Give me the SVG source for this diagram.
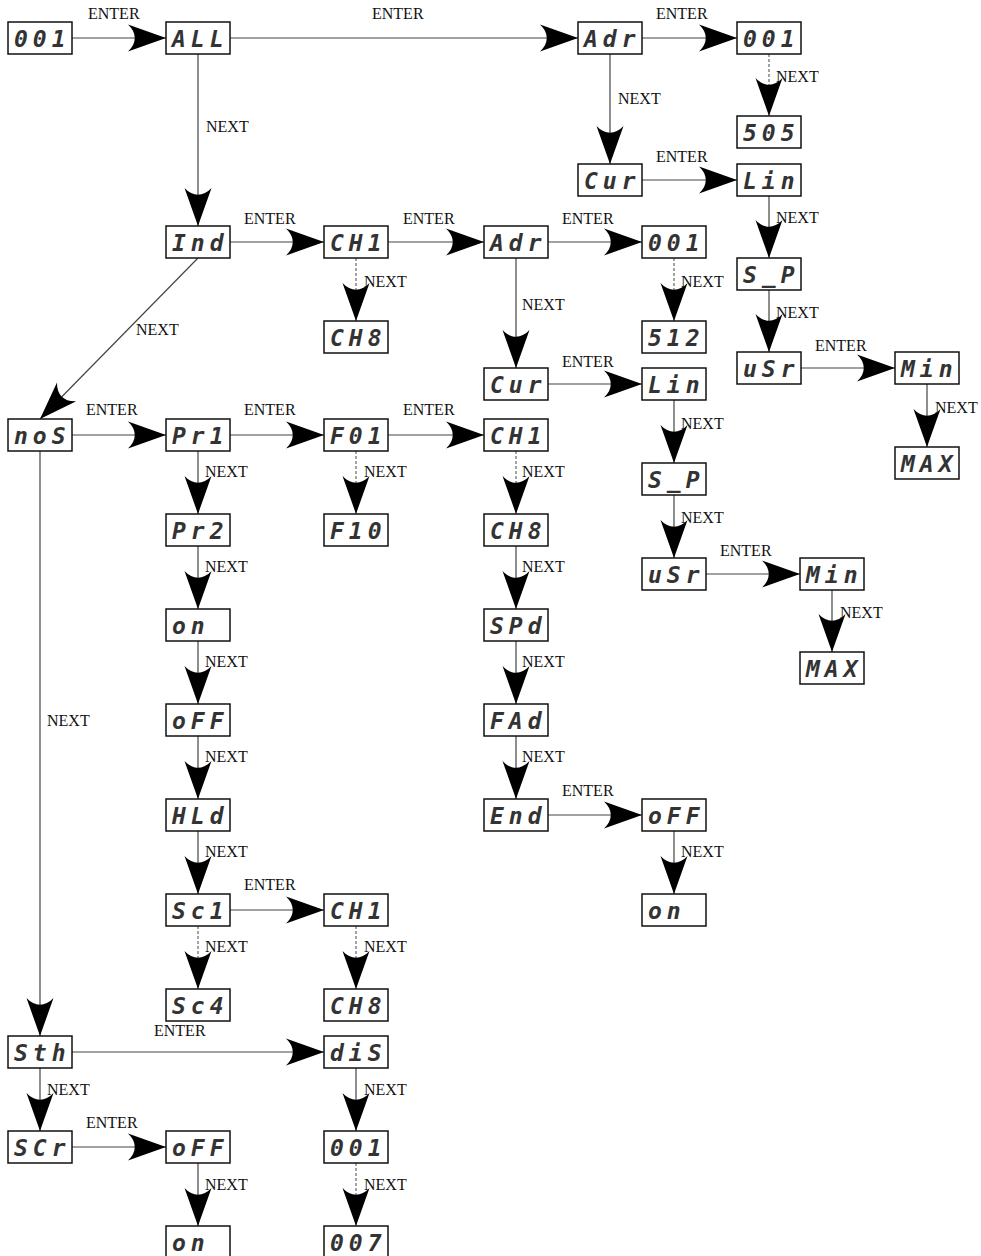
<svg xmlns="http://www.w3.org/2000/svg" width="981" height="1256" viewBox="0 0 981 1256">
<style>
.box{fill:#fff;stroke:#111;stroke-width:1.5}
.seg{font-family:"DejaVu Sans Mono","Liberation Mono",monospace;font-size:23px;font-weight:bold;font-style:italic;fill:#333;letter-spacing:5px}
.lbl{font-family:"Liberation Serif","Times New Roman",serif;font-size:16px;fill:#111}
.c{fill:none;stroke:#444;stroke-width:1.2;marker-end:url(#ah)}
.d{stroke:#666;stroke-dasharray:3 2}
</style>
<defs>
<marker id="ah" markerUnits="userSpaceOnUse" viewBox="-40 -15 41 30" refX="0" refY="0" markerWidth="41" markerHeight="30" orient="auto">
<path d="M0,0 L-38,-13.5 C-29,-5 -29,5 -38,13.5 Z" fill="#000"/>
</marker>
</defs>
<g id="connectors">
<path class="c" d="M72,38H166"/>
<path class="c" d="M230,38H578"/>
<path class="c" d="M642,38H737"/>
<path class="c d" d="M769,54V116"/>
<path class="c" d="M610,54V164"/>
<path class="c" d="M642,180H737"/>
<path class="c" d="M769,196V258"/>
<path class="c" d="M769,290V352"/>
<path class="c" d="M801,368H895"/>
<path class="c" d="M927,384V447"/>
<path class="c" d="M198,54V226"/>
<path class="c" d="M230,242H324"/>
<path class="c" d="M388,242H484"/>
<path class="c" d="M548,242H642"/>
<path class="c d" d="M356,258V321"/>
<path class="c d" d="M674,258V321"/>
<path class="c" d="M516,258V368"/>
<path class="c" d="M548,384H642"/>
<path class="c" d="M674,400V463"/>
<path class="c" d="M674,495V558"/>
<path class="c" d="M706,574H800"/>
<path class="c" d="M832,590V652"/>
<path class="c" d="M198,258L40,419"/>
<path class="c" d="M72,435H166"/>
<path class="c" d="M230,435H324"/>
<path class="c" d="M388,435H484"/>
<path class="c" d="M198,451V514"/>
<path class="c d" d="M356,451V514"/>
<path class="c d" d="M516,451V514"/>
<path class="c" d="M198,546V609"/>
<path class="c" d="M516,546V609"/>
<path class="c" d="M198,641V704"/>
<path class="c" d="M516,641V704"/>
<path class="c" d="M198,736V799"/>
<path class="c" d="M516,736V799"/>
<path class="c" d="M548,815H642"/>
<path class="c" d="M198,831V894"/>
<path class="c" d="M674,831V894"/>
<path class="c" d="M230,910H324"/>
<path class="c d" d="M198,926V989"/>
<path class="c d" d="M356,926V989"/>
<path class="c" d="M40,451V1036"/>
<path class="c" d="M72,1052H324"/>
<path class="c" d="M40,1068V1131"/>
<path class="c" d="M356,1068V1131"/>
<path class="c" d="M72,1147H166"/>
<path class="c" d="M198,1163V1226"/>
<path class="c d" d="M356,1163V1226"/>
</g>
<g id="labels">
<text class="lbl" x="88" y="19">ENTER</text>
<text class="lbl" x="372" y="19">ENTER</text>
<text class="lbl" x="656" y="19">ENTER</text>
<text class="lbl" x="776" y="82">NEXT</text>
<text class="lbl" x="618" y="104">NEXT</text>
<text class="lbl" x="656" y="162">ENTER</text>
<text class="lbl" x="776" y="223">NEXT</text>
<text class="lbl" x="776" y="318">NEXT</text>
<text class="lbl" x="815" y="351">ENTER</text>
<text class="lbl" x="935" y="413">NEXT</text>
<text class="lbl" x="206" y="132">NEXT</text>
<text class="lbl" x="244" y="224">ENTER</text>
<text class="lbl" x="403" y="224">ENTER</text>
<text class="lbl" x="562" y="224">ENTER</text>
<text class="lbl" x="364" y="287">NEXT</text>
<text class="lbl" x="681" y="287">NEXT</text>
<text class="lbl" x="522" y="310">NEXT</text>
<text class="lbl" x="562" y="367">ENTER</text>
<text class="lbl" x="681" y="429">NEXT</text>
<text class="lbl" x="681" y="523">NEXT</text>
<text class="lbl" x="720" y="556">ENTER</text>
<text class="lbl" x="840" y="618">NEXT</text>
<text class="lbl" x="136" y="335">NEXT</text>
<text class="lbl" x="86" y="415">ENTER</text>
<text class="lbl" x="244" y="415">ENTER</text>
<text class="lbl" x="403" y="415">ENTER</text>
<text class="lbl" x="205" y="477">NEXT</text>
<text class="lbl" x="364" y="477">NEXT</text>
<text class="lbl" x="522" y="477">NEXT</text>
<text class="lbl" x="205" y="572">NEXT</text>
<text class="lbl" x="522" y="572">NEXT</text>
<text class="lbl" x="205" y="667">NEXT</text>
<text class="lbl" x="522" y="667">NEXT</text>
<text class="lbl" x="205" y="762">NEXT</text>
<text class="lbl" x="522" y="762">NEXT</text>
<text class="lbl" x="562" y="796">ENTER</text>
<text class="lbl" x="205" y="857">NEXT</text>
<text class="lbl" x="681" y="857">NEXT</text>
<text class="lbl" x="244" y="890">ENTER</text>
<text class="lbl" x="205" y="952">NEXT</text>
<text class="lbl" x="364" y="952">NEXT</text>
<text class="lbl" x="47" y="726">NEXT</text>
<text class="lbl" x="154" y="1036">ENTER</text>
<text class="lbl" x="47" y="1095">NEXT</text>
<text class="lbl" x="364" y="1095">NEXT</text>
<text class="lbl" x="86" y="1128">ENTER</text>
<text class="lbl" x="205" y="1190">NEXT</text>
<text class="lbl" x="364" y="1190">NEXT</text>
</g>
<g id="n001a"><rect class="box" x="8" y="22" width="64" height="32"/><text class="seg" x="14" y="46.5">001</text></g>
<g id="nALL"><rect class="box" x="166" y="22" width="64" height="32"/><text class="seg" x="172" y="46.5">ALL</text></g>
<g id="nAdr1"><rect class="box" x="578" y="22" width="64" height="32"/><text class="seg" x="584" y="46.5">Adr</text></g>
<g id="n001b"><rect class="box" x="737" y="22" width="64" height="32"/><text class="seg" x="743" y="46.5">001</text></g>
<g id="n505"><rect class="box" x="737" y="116" width="64" height="32"/><text class="seg" x="743" y="140.5">505</text></g>
<g id="nCur1"><rect class="box" x="578" y="164" width="64" height="32"/><text class="seg" x="584" y="188.5">Cur</text></g>
<g id="nLin1"><rect class="box" x="737" y="164" width="64" height="32"/><text class="seg" x="743" y="188.5">Lin</text></g>
<g id="nSP1"><rect class="box" x="737" y="258" width="64" height="32"/><text class="seg" x="743" y="282.5">S_P</text></g>
<g id="nuSr1"><rect class="box" x="737" y="352" width="64" height="32"/><text class="seg" x="743" y="376.5">uSr</text></g>
<g id="nMin1"><rect class="box" x="895" y="352" width="64" height="32"/><text class="seg" x="901" y="376.5">Min</text></g>
<g id="nMAX1"><rect class="box" x="895" y="447" width="64" height="32"/><text class="seg" x="901" y="471.5">MAX</text></g>
<g id="nInd"><rect class="box" x="166" y="226" width="64" height="32"/><text class="seg" x="172" y="250.5">Ind</text></g>
<g id="nCH1a"><rect class="box" x="324" y="226" width="64" height="32"/><text class="seg" x="330" y="250.5">CH1</text></g>
<g id="nCH8a"><rect class="box" x="324" y="321" width="64" height="32"/><text class="seg" x="330" y="345.5">CH8</text></g>
<g id="nAdr2"><rect class="box" x="484" y="226" width="64" height="32"/><text class="seg" x="490" y="250.5">Adr</text></g>
<g id="n001c"><rect class="box" x="642" y="226" width="64" height="32"/><text class="seg" x="648" y="250.5">001</text></g>
<g id="n512"><rect class="box" x="642" y="321" width="64" height="32"/><text class="seg" x="648" y="345.5">512</text></g>
<g id="nCur2"><rect class="box" x="484" y="368" width="64" height="32"/><text class="seg" x="490" y="392.5">Cur</text></g>
<g id="nLin2"><rect class="box" x="642" y="368" width="64" height="32"/><text class="seg" x="648" y="392.5">Lin</text></g>
<g id="nSP2"><rect class="box" x="642" y="463" width="64" height="32"/><text class="seg" x="648" y="487.5">S_P</text></g>
<g id="nuSr2"><rect class="box" x="642" y="558" width="64" height="32"/><text class="seg" x="648" y="582.5">uSr</text></g>
<g id="nMin2"><rect class="box" x="800" y="558" width="64" height="32"/><text class="seg" x="806" y="582.5">Min</text></g>
<g id="nMAX2"><rect class="box" x="800" y="652" width="64" height="32"/><text class="seg" x="806" y="676.5">MAX</text></g>
<g id="nnoS"><rect class="box" x="8" y="419" width="64" height="32"/><text class="seg" x="14" y="443.5">noS</text></g>
<g id="nPr1"><rect class="box" x="166" y="419" width="64" height="32"/><text class="seg" x="172" y="443.5">Pr1</text></g>
<g id="nF01"><rect class="box" x="324" y="419" width="64" height="32"/><text class="seg" x="330" y="443.5">F01</text></g>
<g id="nCH1b"><rect class="box" x="484" y="419" width="64" height="32"/><text class="seg" x="490" y="443.5">CH1</text></g>
<g id="nPr2"><rect class="box" x="166" y="514" width="64" height="32"/><text class="seg" x="172" y="538.5">Pr2</text></g>
<g id="nF10"><rect class="box" x="324" y="514" width="64" height="32"/><text class="seg" x="330" y="538.5">F10</text></g>
<g id="nCH8b"><rect class="box" x="484" y="514" width="64" height="32"/><text class="seg" x="490" y="538.5">CH8</text></g>
<g id="non1"><rect class="box" x="166" y="609" width="64" height="32"/><text class="seg" x="172" y="633.5">on</text></g>
<g id="nSPd"><rect class="box" x="484" y="609" width="64" height="32"/><text class="seg" x="490" y="633.5">SPd</text></g>
<g id="noFF1"><rect class="box" x="166" y="704" width="64" height="32"/><text class="seg" x="172" y="728.5">oFF</text></g>
<g id="nFAd"><rect class="box" x="484" y="704" width="64" height="32"/><text class="seg" x="490" y="728.5">FAd</text></g>
<g id="nHLd"><rect class="box" x="166" y="799" width="64" height="32"/><text class="seg" x="172" y="823.5">HLd</text></g>
<g id="nEnd"><rect class="box" x="484" y="799" width="64" height="32"/><text class="seg" x="490" y="823.5">End</text></g>
<g id="noFF2"><rect class="box" x="642" y="799" width="64" height="32"/><text class="seg" x="648" y="823.5">oFF</text></g>
<g id="non2"><rect class="box" x="642" y="894" width="64" height="32"/><text class="seg" x="648" y="918.5">on</text></g>
<g id="nSc1"><rect class="box" x="166" y="894" width="64" height="32"/><text class="seg" x="172" y="918.5">Sc1</text></g>
<g id="nCH1c"><rect class="box" x="324" y="894" width="64" height="32"/><text class="seg" x="330" y="918.5">CH1</text></g>
<g id="nSc4"><rect class="box" x="166" y="989" width="64" height="32"/><text class="seg" x="172" y="1013.5">Sc4</text></g>
<g id="nCH8c"><rect class="box" x="324" y="989" width="64" height="32"/><text class="seg" x="330" y="1013.5">CH8</text></g>
<g id="nSth"><rect class="box" x="8" y="1036" width="64" height="32"/><text class="seg" x="14" y="1060.5">Sth</text></g>
<g id="ndiS"><rect class="box" x="324" y="1036" width="64" height="32"/><text class="seg" x="330" y="1060.5">diS</text></g>
<g id="nSCr"><rect class="box" x="8" y="1131" width="64" height="32"/><text class="seg" x="14" y="1155.5">SCr</text></g>
<g id="noFF3"><rect class="box" x="166" y="1131" width="64" height="32"/><text class="seg" x="172" y="1155.5">oFF</text></g>
<g id="n001d"><rect class="box" x="324" y="1131" width="64" height="32"/><text class="seg" x="330" y="1155.5">001</text></g>
<g id="non3"><rect class="box" x="166" y="1226" width="64" height="32"/><text class="seg" x="172" y="1250.5">on</text></g>
<g id="n007"><rect class="box" x="324" y="1226" width="64" height="32"/><text class="seg" x="330" y="1250.5">007</text></g>
</svg>
